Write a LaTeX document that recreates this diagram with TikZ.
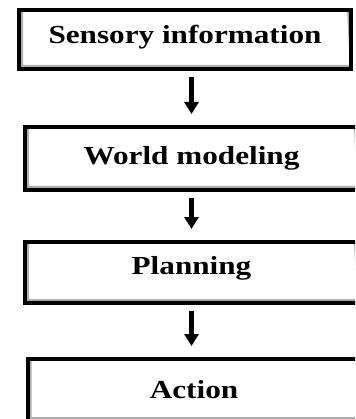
\documentclass[tikz,border=0pt]{standalone}
\usepackage{fontspec}
\usepackage{tikz}
\usetikzlibrary{arrows.meta}
\newfontfamily\boxfont[FakeStretch=1.2]{Liberation Serif}

\tikzset{
  box/.style={draw,line width=4pt,inner sep=0pt,outer sep=0pt,minimum width=333pt,
    font=\boxfont\bfseries\fontsize{26}{26}\selectfont,
    path picture={\draw[line width=2pt,black!32]
      ([xshift=3pt]path picture bounding box.north west) |- ([yshift=3pt]path picture bounding box.south east)
      -- ([xshift=-3pt]path picture bounding box.north east);}},
  flow/.style={line width=5pt,-{Triangle[width=14pt,length=12pt]},shorten <=8pt,shorten >=13pt}
}

\begin{document}
\begin{tikzpicture}[x=1pt,y=-1pt]
\useasboundingbox (0,0) rectangle (355,419);
\clip (0,0) rectangle (355,419);

\node (sensory) at (185,39.5) [box,minimum width=332pt,minimum height=59pt,text depth=11pt] {Sensory information};
\node (world) at (191.5,158.5) [box,minimum height=63pt] {World modeling};
\node (planning) at (191.5,272.5) [box,minimum height=61pt,text depth=15pt] {Planning};
\node (action) at (194,390) [box,minimum height=62pt] {Action};

\draw [flow] (sensory.south -| world.north) -- (world.north);
\draw [flow] (world.south) -- (planning.north);
\draw [flow] (planning.south) -- (planning.south |- action.north);
\end{tikzpicture}
\end{document}
